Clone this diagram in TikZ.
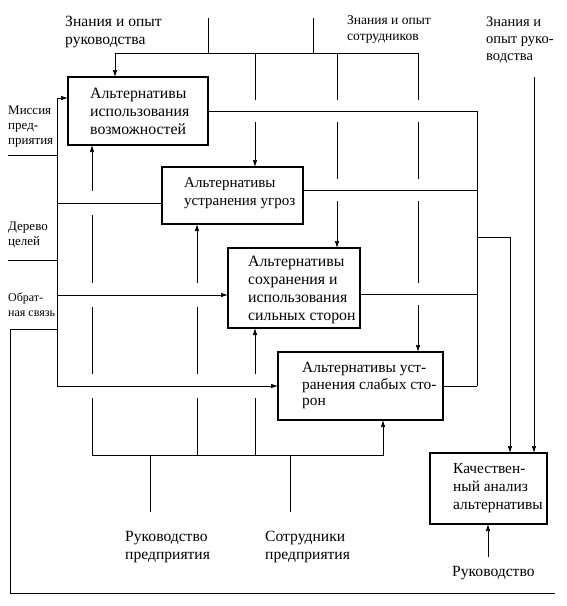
\documentclass[tikz,border=0pt]{standalone}
\usepackage{fontspec}
\setmainfont{Liberation Serif}
\usetikzlibrary{arrows.meta}
\begin{document}
\begin{tikzpicture}[x=1pt,y=-1pt,
  box/.style={draw, line width=1.4pt, inner sep=0pt, outer sep=0pt},
  btext/.style={anchor=west, align=left, inner sep=0pt, font=\fontsize{15.8}{18}\selectfont},
  lbl/.style={anchor=west, align=left, inner sep=0pt, font=\fontsize{15.6}{18}\selectfont},
  mlbl/.style={anchor=west, align=left, inner sep=0pt, font=\fontsize{13.5}{16}\selectfont},
  slbl/.style={anchor=west, align=left, inner sep=0pt, font=\fontsize{13}{15}\selectfont},
  ln/.style={line width=0.7pt},
  arr/.style={ln, -{Latex[length=7pt,width=4.5pt]}},
]
\useasboundingbox (0,0) rectangle (567,606);

% boxes
\node[box, minimum width=140, minimum height=68] (B1) at (138,111) {};
\node[box, minimum width=141, minimum height=57] (B2) at (232.5,195.5) {};
\node[box, minimum width=132, minimum height=80] (B3) at (294,288) {};
\node[box, minimum width=165, minimum height=68] (B4) at (360.5,386) {};
\node[box, minimum width=117, minimum height=71] (B5) at (488.5,488.5) {};

\node[btext] (T1) at ([xshift=22pt]B1.west) {Альтернативы\\использования\\возможностей};
\node[btext, font=\fontsize{15}{18}\selectfont] (T2) at ([xshift=22pt,yshift=2pt]B2.west) {Альтернативы\\устранения угроз};
\node[btext] (T3) at ([xshift=20pt,yshift=-2pt]B3.west) {Альтернативы\\сохранения и\\использования\\сильных сторон};
\node[btext, font=\fontsize{15.4}{16.5}\selectfont] (T4) at ([xshift=24pt]B4.west) {Альтернативы уст-\\ранения слабых сто-\\рон};
\node[btext, font=\fontsize{15.4}{18}\selectfont] (T5) at ([xshift=23pt]B5.west) {Качествен-\\ный анализ\\альтернативы};

% labels
\node[lbl] (L1) at (65,32.5) {Знания и опыт\\руководства};
\node[mlbl] (L2) at (347,29.5) {Знания и опыт\\сотрудников};
\node[mlbl, font=\fontsize{14.5}{17}\selectfont] (L3) at (486,40.5) {Знания и\\опыт руко-\\водства};
\node[slbl] (L4) at (8,127) {Миссия\\пред-\\приятия};
\node[slbl] (L5) at (8,234.5) {Дерево\\целей};
\node[slbl, font=\fontsize{12}{15}\selectfont] (L6) at (8,304.5) {Обрат-\\ная связь};
\node[lbl] (L7) at (125,547) {Руководство\\предприятия};
\node[lbl] (L8) at (265,547) {Сотрудники\\предприятия};
\node[lbl] (L9) at (452,573) {Руководство};

% top inputs
\coordinate (tk1) at (208,18);
\coordinate (tk2) at (313,18);
\draw[ln] (tk1) -- (208,53);
\draw[ln] (tk2) -- (313,53);
\draw[ln] (115,53) -- (418,53);
\draw[arr] (115,53) -- (115,0 |- B1.north);
\draw[ln] (255,53) -- (255,100);
\draw[arr] (255,122) -- (255,0 |- B2.north);
\draw[ln] (337,53) -- (337,100) (337,122) -- (337,179);
\draw[arr] (337,201) -- (337,0 |- B3.north);
\draw[ln] (418,53) -- (418,100) (418,122) -- (418,179) (418,201) -- (418,283);
\draw[arr] (418,305) -- (418,0 |- B4.north);

% outputs to the right
\draw[ln] (B1.east) -- (477,111);
\draw[ln] (B2.east |- 0,190) -- (477,190);
\draw[ln] (B3.east |- 0,294) -- (477,294);
\draw[ln] (B4.east) -- (477,386);
\draw[ln] (477,111) -- (477,386);
\draw[arr] (477,237) -- (510,237) -- (510,0 |- B5.north);
\coordinate (tk3) at (534,77);
\draw[arr] (tk3) -- (534,0 |- B5.north);

% left inputs
\draw[ln] (8,155) -- (57,155);
\draw[ln] (57,98) -- (57,386);
\draw[arr] (57,98) -- (B1.west |- 0,98);
\draw[ln] (57,203) -- (B2.west |- 0,203);
\draw[ln] (8,260) -- (57,260);
\draw[arr] (57,295) -- (B3.west |- 0,295);
\draw[arr] (57,386) -- (B4.west);
\draw[ln] (555,593) -- (10,593) -- (10,329) -- (57,329);

% bottom mechanisms
\draw[ln] (92,455) -- (92,398) (92,374) -- (92,307) (92,283) -- (92,215);
\draw[arr] (92,191) -- (92,0 |- B1.south);
\draw[ln] (197,455) -- (197,398) (197,374) -- (197,307);
\draw[arr] (197,283) -- (197,0 |- B2.south);
\draw[ln] (255,455) -- (255,398);
\draw[arr] (255,374) -- (255,0 |- B3.south);
\draw[arr] (92,455) -- (383,455) -- (383,0 |- B4.south);
\draw[ln] (150,512) -- (150,455);
\draw[ln] (290,512) -- (290,455);
\draw[arr] (488,557) -- (488,0 |- B5.south);
\end{tikzpicture}
\end{document}
